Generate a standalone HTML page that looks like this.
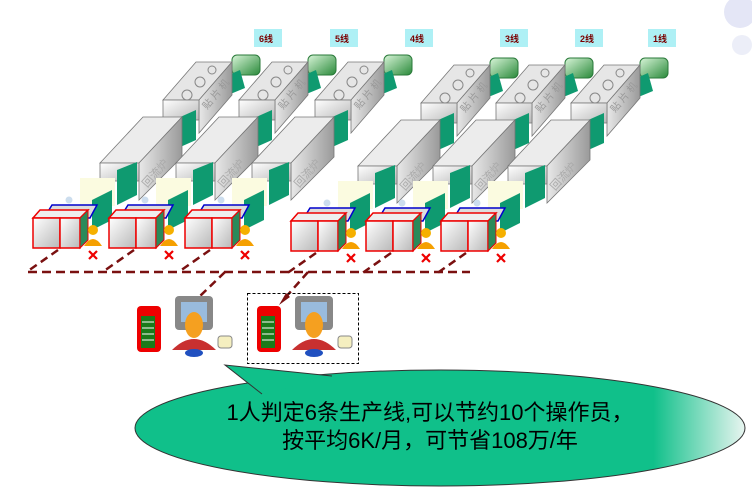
<!DOCTYPE html>
<html><head><meta charset="utf-8"><style>
html,body{margin:0;padding:0;background:#fff;}
svg{display:block;font-family:"Liberation Sans","Noto Sans CJK SC",sans-serif;}
</style></head><body>
<svg width="752" height="502" viewBox="0 0 752 502" xmlns="http://www.w3.org/2000/svg">
<defs>
<linearGradient id="gw" x1="0" y1="0" x2="1" y2="1"><stop offset="0" stop-color="#fff"/><stop offset="1" stop-color="#b8b8b8"/></linearGradient>
<linearGradient id="gs" x1="0" y1="0" x2="1" y2="0"><stop offset="0" stop-color="#e8e8e8"/><stop offset="1" stop-color="#9a9a9a"/></linearGradient>
<linearGradient id="gg" x1="0" y1="0" x2="1" y2="1"><stop offset="0" stop-color="#d8f5d8"/><stop offset="1" stop-color="#2a8a3a"/></linearGradient>
<linearGradient id="ge" x1="0" y1="0" x2="1" y2="0"><stop offset="0" stop-color="#10c08a"/><stop offset="0.85" stop-color="#10c08a"/><stop offset="1" stop-color="#e8f5f0"/></linearGradient>
<g id="line">
 <rect x="232" y="55" width="28" height="20" rx="5" fill="url(#gg)" stroke="#2a7a3a"/>
 <polygon points="222,78 240,70 245,88 228,95" fill="#0f9a70"/>
 <polygon points="163,100 196,62 232,62 199,100" fill="#e6e6e6" stroke="#777" stroke-width="0.8"/>
 <polygon points="199,100 232,62 232,95 199,133" fill="url(#gs)" stroke="#777" stroke-width="0.8"/>
 <rect x="163" y="100" width="36" height="20" fill="url(#gw)" stroke="#777" stroke-width="0.8"/>
 <circle cx="187" cy="95" r="5" fill="none" stroke="#888"/>
 <circle cx="200" cy="82" r="5" fill="none" stroke="#888"/>
 <circle cx="212" cy="70" r="4" fill="none" stroke="#888"/>
 <text x="207" y="110" font-size="10" fill="#999" transform="rotate(-50 207 110)">贴 片 机</text>
 <polygon points="178,118 196,110 196,140 178,148" fill="#0f9a70"/>
 <polygon points="100,163 143,117 182,117 139,163" fill="#ececec" stroke="#777" stroke-width="0.8"/>
 <polygon points="139,163 182,117 182,157 139,200" fill="url(#gs)" stroke="#777" stroke-width="0.8"/>
 <rect x="100" y="163" width="39" height="18" fill="url(#gw)" stroke="#777" stroke-width="0.8"/>
 <text x="147" y="188" font-size="11" fill="#aaa" transform="rotate(-48 147 188)">回流炉</text>
 <polygon points="117,170 137,162 137,195 117,205" fill="#0f9a70"/>
 <rect x="80" y="178" width="35" height="28" fill="#fbfbe0"/>
 <polygon points="92,200 112,190 112,220 92,230" fill="#0f9a70"/>
 <polygon points="44,218 52,205 97,205 90,218" fill="#ddd" stroke="#0000cc" stroke-width="1.5"/>
 <circle cx="69" cy="200" r="3.5" fill="#cde"/>
 <polygon points="33,218 40,210 88,210 80,218" fill="#eee" stroke="#e00" stroke-width="1.5"/>
 <rect x="33" y="218" width="27" height="30" fill="url(#gw)" stroke="#e00" stroke-width="1.5"/>
 <rect x="60" y="218" width="20" height="30" fill="url(#gw)" stroke="#e00" stroke-width="1.5"/>
 <polygon points="80,218 88,210 88,240 80,248" fill="#2a8a5a" stroke="#e00" stroke-width="1"/>
 <circle cx="93" cy="230" r="5" fill="#f5b000"/>
 <path d="M84,246 Q93,232 102,246 Z" fill="#f5a000"/>
 <path d="M89,251 l8,8 M97,251 l-8,8" stroke="#e00" stroke-width="2.2"/>
 <line x1="58" y1="250" x2="28" y2="271" stroke="#7a1010" stroke-width="2.5" stroke-dasharray="8,5"/>
</g>
</defs>

<circle cx="740" cy="12" r="16" fill="#e4e6f6"/>
<circle cx="742" cy="45" r="10" fill="#eceef8"/>

<g font-size="9" font-weight="bold" fill="#7a0000">
<rect x="254" y="29" width="28" height="18" fill="#aef0f5"/><text x="259" y="42">6线</text>
<rect x="330" y="29" width="28" height="18" fill="#aef0f5"/><text x="335" y="42">5线</text>
<rect x="405" y="29" width="28" height="18" fill="#aef0f5"/><text x="410" y="42">4线</text>
<rect x="500" y="29" width="28" height="18" fill="#aef0f5"/><text x="505" y="42">3线</text>
<rect x="575" y="29" width="28" height="18" fill="#aef0f5"/><text x="580" y="42">2线</text>
<rect x="648" y="29" width="28" height="18" fill="#aef0f5"/><text x="653" y="42">1线</text>
</g>

<use href="#line" transform="translate(0,0)"/>
<use href="#line" transform="translate(76,0)"/>
<use href="#line" transform="translate(152,0)"/>
<use href="#line" transform="translate(258,3)"/>
<use href="#line" transform="translate(333,3)"/>
<use href="#line" transform="translate(408,3)"/>

<line x1="28" y1="272" x2="470" y2="272" stroke="#7a1010" stroke-width="2.5" stroke-dasharray="9,5"/>
<line x1="225" y1="272" x2="198" y2="298" stroke="#7a1010" stroke-width="2.5" stroke-dasharray="8,5"/>
<line x1="308" y1="272" x2="285" y2="298" stroke="#7a1010" stroke-width="2.5" stroke-dasharray="8,5"/>
<polygon points="279,305 290,297 286,293" fill="#7a1010"/>

<g id="op">
<rect x="137" y="306" width="24" height="46" rx="4" fill="#e00"/>
<rect x="141" y="316" width="14" height="32" fill="#1a7a1a"/>
<path d="M142,322h12M142,328h12M142,334h12M142,340h12" stroke="#fff"/>
<rect x="175" y="296" width="38" height="34" rx="4" fill="#888"/>
<rect x="181" y="302" width="26" height="20" fill="#9bd"/>
<ellipse cx="194" cy="325" rx="9" ry="13" fill="#f5a020"/>
<path d="M172,350 Q194,328 216,350 Z" fill="#c83030"/>
<ellipse cx="194" cy="353" rx="9" ry="4" fill="#2050c0"/>
<rect x="218" y="336" width="14" height="12" rx="3" fill="#f5efc0" stroke="#888"/>
</g>
<use href="#op" transform="translate(120,0)"/>
<rect x="247.5" y="293.5" width="111" height="70" fill="none" stroke="#000" stroke-dasharray="3,2"/>

<ellipse cx="440" cy="428" rx="305" ry="58" fill="url(#ge)" stroke="#333" stroke-width="1"/>
<polygon points="225,365 330,376 262,395" fill="#10c08a"/>
<path d="M262,394 L225,365 L332,376" fill="none" stroke="#333" stroke-width="1"/>
<text x="430" y="420" font-size="22" text-anchor="middle" fill="#000">1人判定6条生产线,可以节约10个操作员，</text>
<text x="430" y="448" font-size="22" text-anchor="middle" fill="#000">按平均6K/月，可节省108万/年</text>
</svg>
</body></html>
